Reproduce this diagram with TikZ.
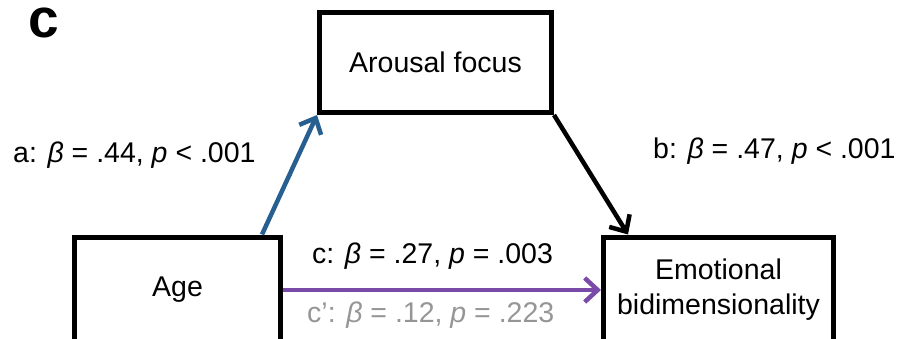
\documentclass[tikz,border=0pt]{standalone}
\usepackage{fontspec}
\setmainfont{Liberation Sans}
\usetikzlibrary{arrows.meta,calc}
\definecolor{ablue}{RGB}{40,95,145}
\definecolor{cpurple}{RGB}{122,74,168}
\definecolor{cgray}{RGB}{150,150,150}
\begin{document}
\begin{tikzpicture}[x=1pt,y=-1pt,
  box/.style={draw, line width=5pt, inner sep=0pt, align=center, font=\fontsize{28.5}{35}\selectfont},
  lbl/.style={anchor=base west, inner sep=0pt, font=\fontsize{28.5}{34}\selectfont},
  arr/.style={line width=4.5pt, -{Straight Barb[length=13pt,width=24pt]}}]
\clip (0,0) rectangle (899,339);
\fill[white] (0,0) rectangle (899,339);
\node[inner sep=0pt, font=\bfseries\fontsize{55}{55}\selectfont] (panel) at (44,23) {c};
\node[box, minimum width=232pt, minimum height=100pt] (arousal) at (435.5,62.5) {Arousal focus};
\node[box, minimum width=206pt, minimum height=106pt] (age) at (177.5,290) {Age};
\node[box, minimum width=230pt, minimum height=106pt] (emo) at (718.5,290) {Emotional\\bidimensionality};
\draw[arr, ablue] ($(age.north east)+(-21,0)$) -- (arousal.south west);
\draw[arr, black] (arousal.south east) -- ($(emo.north west)+(27,0)$);
\draw[arr, cpurple] (age.east) -- (emo.west);
\node[lbl] (la) at (13,163) {a: {\itshape β} = .44, {\itshape p} < .001};
\node[lbl] (lb) at (653,159) {b: {\itshape β} = .47, {\itshape p} < .001};
\node[lbl] (lc) at (312,263) {c: {\itshape β} = .27, {\itshape p} = .003};
\node[lbl, text=cgray] (lcp) at (307,322) {c’: {\itshape β} = .12, {\itshape p} = .223};
\end{tikzpicture}
\end{document}
